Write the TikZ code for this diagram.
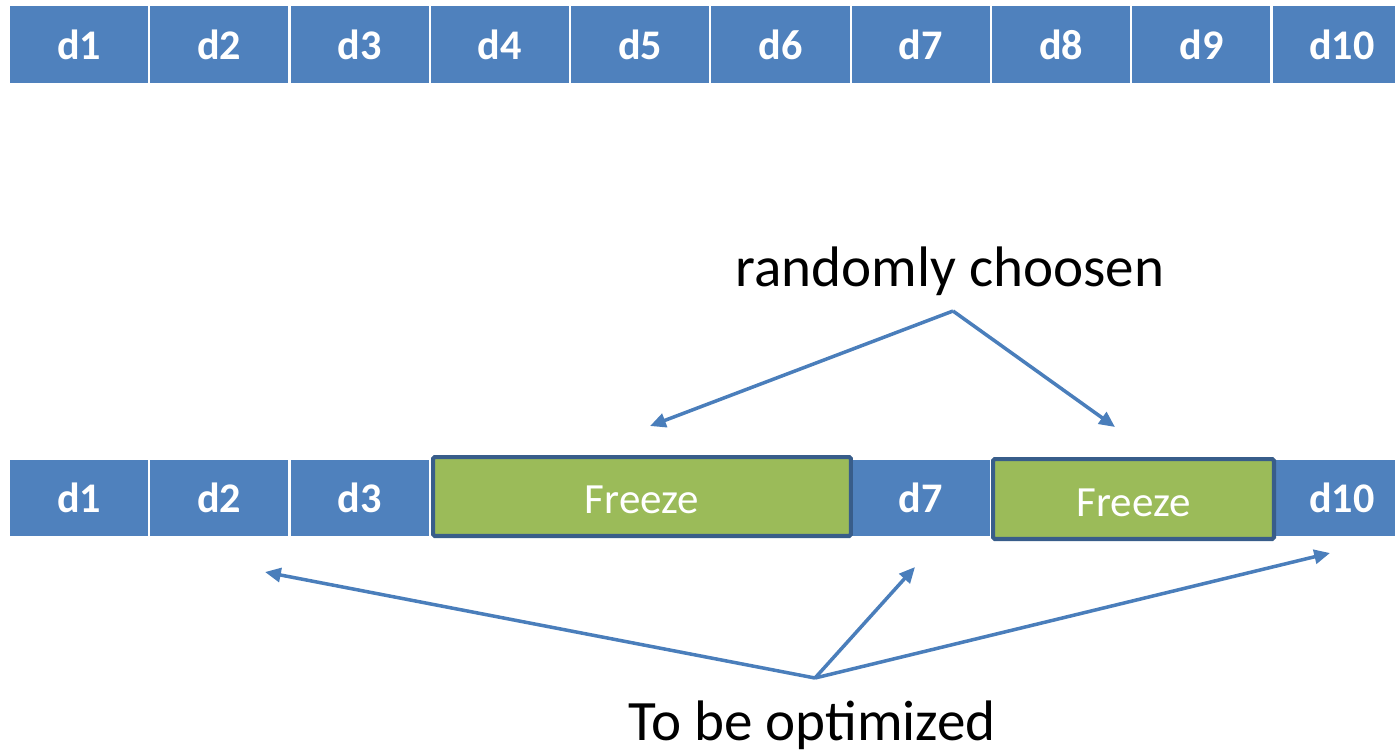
\documentclass[tikz,border=0pt]{standalone}
\usepackage{fontspec}
\setsansfont{Carlito}
\RequirePackage{xcolor}
\tikzset{every picture/.style={/utils/exec={\sffamily}}}
\usetikzlibrary{positioning}
\usetikzlibrary{arrows.meta}

\definecolor{cellblue}{HTML}{4F81BD}
\definecolor{freezegreen}{HTML}{9BBB59}
\definecolor{freezeedge}{HTML}{385D8A}
\definecolor{arrowblue}{HTML}{4A7EBB}

\tikzset{
  cell/.style={rectangle, fill=cellblue, draw=white, line width=1.1pt,
    minimum width=2.8cm, minimum height=1.56cm, inner sep=0pt,
    text=white, font=\fontsize{24}{28}\selectfont\bfseries},
  frozen/.style={rectangle, fill=freezegreen, draw=freezeedge, line width=2.3pt,
    rounded corners=1pt, inner sep=0pt, text height=0.68cm, text depth=0pt,
    text=white, font=\fontsize{24.5}{28}\selectfont},
  pointer/.style={draw=arrowblue, line width=2pt,
    -{Triangle[length=9pt,width=8pt]}},
  caption/.style={anchor=base, font=\fontsize{32.5}{38}\selectfont},
}

\begin{document}
\begin{tikzpicture}[x=0.02cm, y=-0.02cm]
  \useasboundingbox (0,0) rectangle (1395,752);
  \clip (0,0) rectangle (1395,752);

  % all ten blocks
  \foreach \i in {1,...,10}
    \node [cell] (top\i) at ({79+140.3*(\i-1)}, 44.5) {d\i};

  % same row, d4-d6 and d8-d9 frozen
  \foreach \i in {1,2,3,7,10}
    \node [cell] (bot\i) at ({79+140.3*(\i-1)}, 498) {d\i};

  \node [frozen, minimum width=8.36cm, minimum height=1.58cm] (frz1) at (642,496.5) {Freeze};
  \node [frozen, minimum width=5.62cm, minimum height=1.6cm] (frz2) at (1133.5,499) {Freeze};

  \node [caption] (chosen) at (950,286) {randomly choosen};
  \node [caption] (optim) at (812,740) {To be optimized};

  \coordinate (chosenfoot) at (953,311);
  \coordinate (frz1tip) at (650,426);
  \coordinate (frz2tip) at (1115,427);

  \coordinate (optimhead) at (815,678);
  \coordinate (bot2tip) at (265,572);
  \coordinate (bot7tip) at (915,567);
  \coordinate (bot10tip) at (1330,553);

  \draw [pointer] (chosenfoot) -- (frz1tip);
  \draw [pointer] (chosenfoot) -- (frz2tip);

  \draw [pointer] (optimhead) -- (bot2tip);
  \draw [pointer] (optimhead) -- (bot7tip);
  \draw [pointer] (optimhead) -- (bot10tip);

\end{tikzpicture}
\end{document}
